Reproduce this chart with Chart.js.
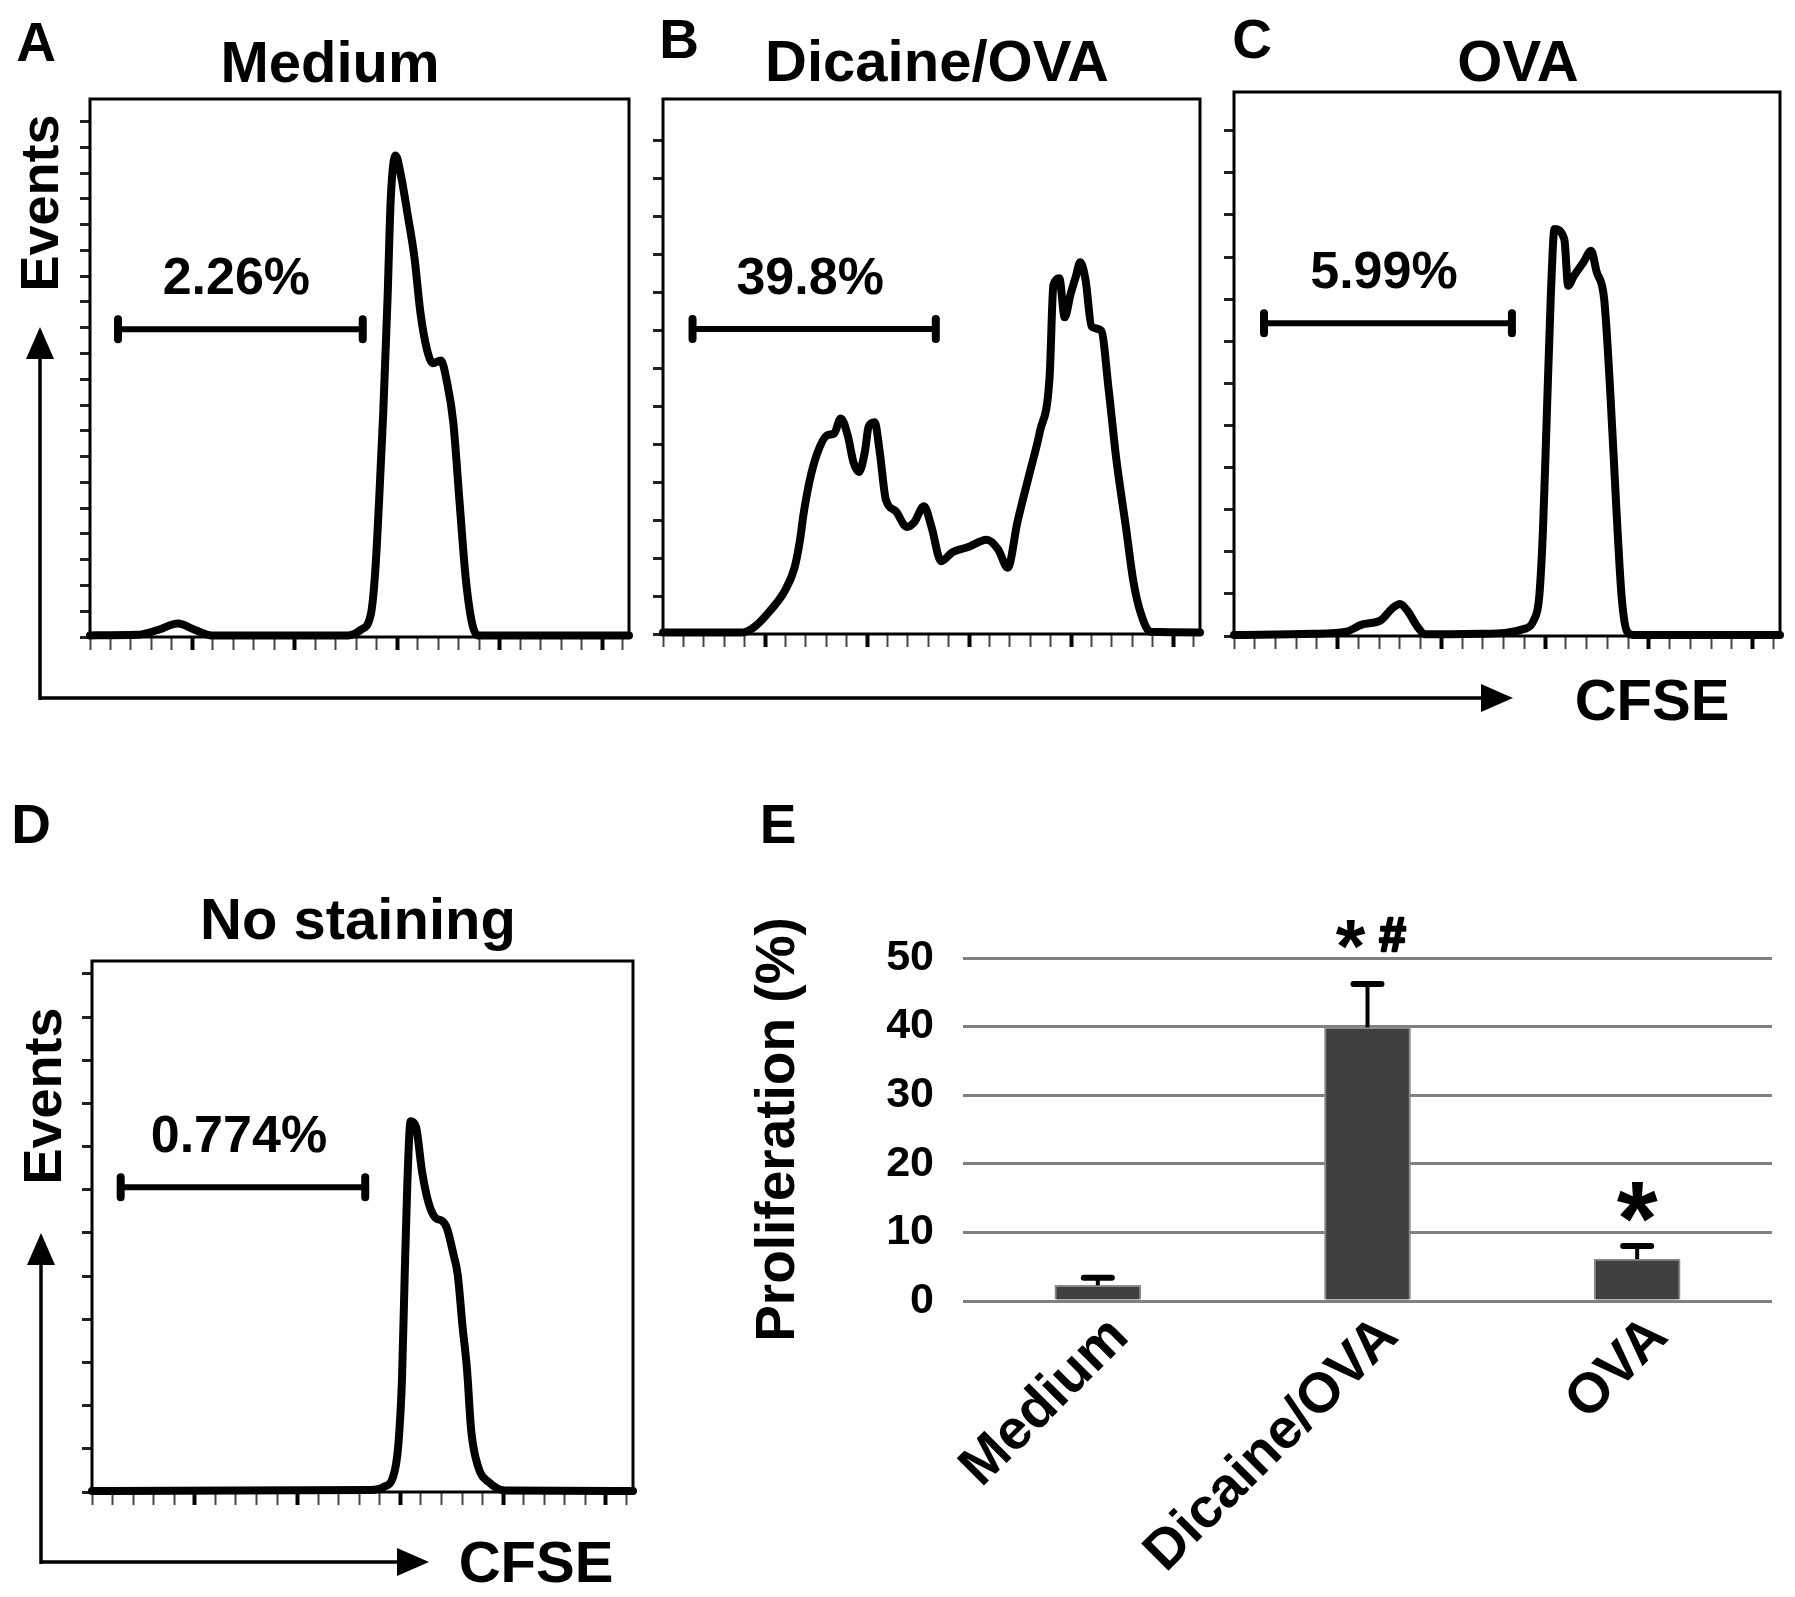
<!DOCTYPE html>
<html>
<head>
<meta charset="utf-8">
<script src="https://cdn.jsdelivr.net/npm/chart.js@4.4.1/dist/chart.umd.min.js"></script>
<style>
  body { margin: 0; background: #fff; }
  #fig { position: relative; width: 1795px; height: 1597px; overflow: hidden; background: #fff;
         font-family: 'Liberation Sans', Arial, sans-serif; font-weight: bold; color: #000; }
  .t { position: absolute; white-space: nowrap; line-height: 1; transform: translate(-50%, -50%); }
  .rot { transform: translate(-50%, -50%) rotate(-90deg); }
  canvas { position: absolute; }
</style>
</head>
<body>
<div id="fig">
  <svg width="1795" height="1597" style="position:absolute;left:0;top:0">
    <g stroke="#000" stroke-width="3.5" fill="none">
      <path d="M40 700 V350 M40 698 H1488"/>
      <path d="M41 1564 V1256 M41 1562 H404"/>
    </g>
    <g fill="#000">
      <polygon points="40,327 26,359 54,359"/>
      <polygon points="1513,698 1481,684 1481,712"/>
      <polygon points="41,1233 27,1265 55,1265"/>
      <polygon points="429,1562 397,1548 397,1576"/>
    </g>
  </svg>

  <div class="t" style="left:36px;top:42px;font-size:55px">A</div>
  <div class="t" style="left:679px;top:39px;font-size:55px">B</div>
  <div class="t" style="left:1252px;top:39px;font-size:55px">C</div>
  <div class="t" style="left:31px;top:824px;font-size:55px">D</div>
  <div class="t" style="left:778px;top:824px;font-size:55px">E</div>

  <div class="t" style="left:330px;top:62px;font-size:58px" id="title0"></div>
  <div class="t" style="left:937px;top:61px;font-size:58px" id="title1"></div>
  <div class="t" style="left:1518px;top:61px;font-size:58px" id="title2"></div>
  <div class="t" style="left:358px;top:919px;font-size:58px" id="title3"></div>

  <div class="t rot" style="left:39px;top:203px;font-size:54px">Events</div>
  <div class="t rot" style="left:42px;top:1096px;font-size:54px">Events</div>
  <div class="t" style="left:1652px;top:700px;font-size:58px">CFSE</div>
  <div class="t" style="left:536px;top:1562px;font-size:58px">CFSE</div>
</div>

<script>
// ---- data: CFSE histograms (x = channel position in % of plot width, y = events in % of plot height)
const panelTitles = ['Medium', 'Dicaine/OVA', 'OVA', 'No staining'];

const medX = [0, 8.8, 12.6, 16.3, 19.5, 22.6, 47.9, 50.2, 52.1, 52.9, 53.6, 54.4, 55.2, 55.8, 56.7, 57.7, 59.0, 60.2, 61.3, 62.5, 63.6, 65.1, 66.2, 67.4, 68.6, 69.7, 70.9, 72.0, 100];
const medY = [0.3, 0.4, 1.3, 2.5, 1.3, 0.3, 0.3, 1.3, 4.2, 11.9, 24.6, 41.6, 62.8, 81.5, 89.5, 85.7, 78.1, 70.5, 60.3, 53.5, 50.9, 51.4, 47.5, 39.9, 24.6, 11.0, 2.5, 0.3, 0.3];

const dicX = [0, 14.9, 17.0, 19.9, 22.7, 24.5, 25.5, 26.2, 27.3, 28.7, 30.5, 31.9, 33.1, 34.4, 35.5, 36.5, 37.6, 38.3, 39.4, 40.4, 41.5, 43.3, 45.4, 46.8, 48.6, 50.0, 51.8, 53.9, 56.7, 60.3, 62.4, 64.2, 66.0, 68.1, 70.2, 72.0, 72.7, 73.8, 74.8, 75.9, 76.9, 77.7, 78.7, 79.8, 81.6, 83.0, 84.4, 86.2, 87.6, 89.0, 90.8, 100];
const dicY = [0.3, 0.3, 1.3, 4.3, 8.1, 12.4, 17.5, 22.6, 28.6, 33.7, 37.1, 37.5, 40.3, 37.1, 32.0, 30.3, 34.1, 38.8, 39.6, 33.7, 25.1, 23.0, 20.0, 20.9, 23.9, 20.0, 13.6, 15.3, 16.2, 17.6, 15.8, 12.4, 20.9, 29.4, 37.9, 48.2, 65.2, 66.5, 59.2, 63.5, 66.9, 69.5, 66.1, 57.5, 56.7, 45.6, 32.8, 20.0, 9.8, 3.8, 0.4, 0.3];

const ovaX = [0, 14.3, 20.6, 23.4, 26.9, 29.0, 30.4, 31.8, 33.6, 35.0, 45.1, 53.5, 54.9, 55.9, 56.6, 57.3, 58.0, 58.7, 60.5, 61.2, 62.2, 64.0, 65.4, 66.4, 67.8, 68.9, 70.0, 71.0, 72.0, 73.1, 100];
const ovaY = [0.2, 0.4, 0.8, 2.1, 2.9, 5.1, 5.9, 4.6, 1.7, 0.3, 0.4, 1.4, 2.9, 7.2, 19.8, 40.9, 61.9, 74.8, 72.9, 64.4, 66.1, 68.7, 70.8, 67.0, 61.9, 45.1, 24.0, 7.2, 0.8, 0.2, 0.2];

const noX = [0, 51.5, 54.0, 55.6, 56.6, 57.3, 57.8, 58.3, 58.9, 59.9, 61.0, 62.2, 63.5, 64.7, 65.6, 66.8, 67.6, 68.5, 69.3, 70.1, 71.4, 73.4, 76.3, 100];
const noY = [0.2, 0.4, 1.0, 2.7, 8.6, 21.3, 40.9, 58.5, 69.8, 68.7, 60.4, 54.5, 51.6, 51.1, 49.7, 44.8, 40.9, 31.1, 23.3, 11.5, 4.7, 1.8, 0.3, 0.2];

// proliferation gates
const gateText = ['2.26%', '39.8%', '5.99%', '0.774%'];
const gateFrom = [5.2, 5.5, 5.5, 5.3];
const gateTo = [50.6, 50.8, 50.9, 50.5];
const gateLevel = [57.2, 57.0, 57.5, 57.4];

// ---- data: panel E bar chart
const barLabels = ['Medium', 'Dicaine/OVA', 'OVA'];
const barMeans = [2.3, 39.9, 6.1];
const barErrors = [1.1, 6.3, 1.9];
const barMarks = ['', '*#', '*'];
const yTicksE = [0, 10, 20, 30, 40, 50];

const FONT = "'Liberation Sans', Arial, sans-serif";
Chart.defaults.font.family = FONT;
Chart.defaults.color = '#000';

const fig = document.getElementById('fig');
panelTitles.forEach((t, i) => { document.getElementById('title' + i).textContent = t; });

function addCanvas(id, left, top, w, h) {
    const c = document.createElement('canvas');
    c.id = id;
    c.width = w; c.height = h;
    c.style.left = left + 'px'; c.style.top = top + 'px';
    c.style.width = w + 'px'; c.style.height = h + 'px';
    fig.appendChild(c);
    return c;
}

// box around the plot area
const framePlugin = {
    id: 'frame',
    beforeDatasetsDraw(chart) {
        const { ctx, chartArea: a } = chart;
        ctx.save();
        ctx.strokeStyle = '#000';
        ctx.lineWidth = 3;
        ctx.strokeRect(a.left, a.top, a.right - a.left, a.bottom - a.top);
        ctx.restore();
    }
};

// gate marker with its percentage
const gatePlugin = {
    id: 'gate',
    afterDatasetsDraw(chart, args, o) {
        const { ctx, scales: { x, y } } = chart;
        const x1 = x.getPixelForValue(o.from), x2 = x.getPixelForValue(o.to);
        const yy = y.getPixelForValue(o.level);
        ctx.save();
        ctx.strokeStyle = '#000';
        ctx.lineWidth = 6;
        ctx.beginPath(); ctx.moveTo(x1, yy); ctx.lineTo(x2, yy); ctx.stroke();
        ctx.lineWidth = 8; ctx.lineCap = 'round';
        ctx.beginPath();
        ctx.moveTo(x1, yy - 10); ctx.lineTo(x1, yy + 10);
        ctx.moveTo(x2, yy - 10); ctx.lineTo(x2, yy + 10);
        ctx.stroke();
        ctx.fillStyle = '#000';
        ctx.font = 'bold 52px ' + FONT;
        ctx.textAlign = 'center';
        ctx.textBaseline = 'alphabetic';
        ctx.fillText(o.text, (x1 + x2) / 2 - 4, yy - 35);
        ctx.restore();
    }
};

const AX = 26, PAD = 8;
const xTickVals = [];
for (let i = 0; i <= 26; i++) xTickVals.push(+(i * 3.8).toFixed(1));

function histChart(p) {
    const w = p.R - p.L, h = p.B - p.T;
    const canvas = addCanvas(p.id, p.L - AX, p.T - PAD, AX + w + PAD, PAD + h + AX);
    const yTickVals = [];
    for (let v = 0; v <= 98; v += p.ystep) yTickVals.push(v);
    const pts = p.xs.map((x, i) => ({ x: x, y: p.ys[i] }));
    return new Chart(canvas, {
        type: 'line',
        data: { datasets: [{
            data: pts, borderColor: '#000', borderWidth: 8, pointRadius: 0,
            cubicInterpolationMode: 'monotone', borderJoinStyle: 'round', borderCapStyle: 'round', clip: 12
        }] },
        options: {
            responsive: false, animation: false, events: [],
            layout: { padding: { top: PAD, right: PAD, left: 0, bottom: 0 } },
            plugins: {
                legend: { display: false }, tooltip: { enabled: false },
                gate: { from: gateFrom[p.g], to: gateTo[p.g], level: gateLevel[p.g], text: gateText[p.g] }
            },
            scales: {
                x: {
                    type: 'linear', min: 0, max: 100,
                    afterFit: s => { s.height = AX; },
                    afterBuildTicks: s => { s.ticks = xTickVals.map((v, i) => ({ value: v, major: i > 0 && i % 5 === 0 })); },
                    ticks: { display: false },
                    border: { display: false },
                    grid: { drawOnChartArea: false, drawTicks: true, tickLength: 13,
                            tickColor: c => (c.tick && c.tick.major ? '#000' : '#444'),
                            tickWidth: c => (c.tick && c.tick.major ? 4 : 2) }
                },
                y: {
                    type: 'linear', min: 0, max: 100,
                    afterFit: s => { s.width = AX; },
                    afterBuildTicks: s => { s.ticks = yTickVals.map(v => ({ value: v })); },
                    ticks: { display: false },
                    border: { display: false },
                    grid: { drawOnChartArea: false, drawTicks: true, tickLength: 10, tickColor: '#222', tickWidth: 3 }
                }
            }
        },
        plugins: [framePlugin, gatePlugin]
    });
}

[
    { id: 'chartA', xs: medX, ys: medY, g: 0, ystep: 4.79, L: 90, T: 99, R: 629, B: 637 },
    { id: 'chartB', xs: dicX, ys: dicY, g: 1, ystep: 7.1, L: 663, T: 99, R: 1200, B: 634 },
    { id: 'chartC', xs: ovaX, ys: ovaY, g: 2, ystep: 7.74, L: 1234, T: 92, R: 1780, B: 636 },
    { id: 'chartD', xs: noX, ys: noY, g: 3, ystep: 8.13, L: 92, T: 961, R: 633, B: 1492 }
].forEach(histChart);

// ---- panel E: error bars and significance marks
function drawGlyph(ctx, ch, cx, cy, targetH, extra) {
    ctx.font = 'bold 100px ' + FONT;
    const m = ctx.measureText(ch);
    const hh = m.actualBoundingBoxAscent + m.actualBoundingBoxDescent;
    const size = 100 * targetH / hh;
    ctx.font = 'bold ' + size + 'px ' + FONT;
    const m2 = ctx.measureText(ch);
    const midOff = (m2.actualBoundingBoxAscent - m2.actualBoundingBoxDescent) / 2;
    ctx.textAlign = 'center';
    ctx.textBaseline = 'alphabetic';
    ctx.fillText(ch, cx, cy + midOff);
    if (extra) {
        ctx.lineWidth = extra;
        ctx.lineJoin = 'round';
        ctx.strokeText(ch, cx, cy + midOff);
    }
}

const errPlugin = {
    id: 'errbars',
    afterDatasetsDraw(chart) {
        const { ctx, scales: { y } } = chart;
        const meta = chart.getDatasetMeta(0);
        ctx.save();
        ctx.strokeStyle = '#000';
        ctx.fillStyle = '#000';
        meta.data.forEach((bar, i) => {
            const top = y.getPixelForValue(barMeans[i] + barErrors[i]);
            ctx.lineWidth = 4;
            ctx.beginPath(); ctx.moveTo(bar.x, bar.y); ctx.lineTo(bar.x, top); ctx.stroke();
            ctx.lineWidth = 6; ctx.lineCap = 'round';
            ctx.beginPath(); ctx.moveTo(bar.x - 14, top); ctx.lineTo(bar.x + 14, top); ctx.stroke();
            ctx.lineCap = 'butt';
            const mark = barMarks[i];
            if (mark === '*') {
                drawGlyph(ctx, '*', bar.x, top - 44, 40, 0);
            } else if (mark) {
                drawGlyph(ctx, '*', bar.x - 17, top - 50, 29, 0);
                drawGlyph(ctx, '#', bar.x + 25, top - 50, 33, 2.5);
            }
        });
        ctx.restore();
    }
};

const cE = addCanvas('chartE', 740, 880, 1055, 717);
new Chart(cE, {
    type: 'bar',
    data: {
        labels: barLabels,
        datasets: [{
            data: barMeans, backgroundColor: '#404040', borderColor: '#8a8a8a', borderWidth: 2,
            barThickness: 86
        }]
    },
    options: {
        responsive: false, animation: false, events: [],
        layout: { padding: { top: 78, right: 23, left: 0, bottom: 0 } },
        plugins: { legend: { display: false }, tooltip: { enabled: false } },
        scales: {
            x: {
                afterFit: s => { s.height = 296; },
                grid: { display: false, drawTicks: false },
                border: { display: false },
                ticks: { font: { size: 56, weight: 'bold' }, color: '#000', minRotation: 45, maxRotation: 45,
                         autoSkip: false, labelOffset: 22, padding: 3 }
            },
            y: {
                min: 0, max: 50,
                afterFit: s => { s.width = 223; },
                afterBuildTicks: s => { s.ticks = yTicksE.map(v => ({ value: v })); },
                grid: { color: '#808080', lineWidth: 3, drawTicks: false },
                border: { display: false },
                ticks: { font: { size: 43, weight: 'bold' }, color: '#000', padding: 29 },
                title: { display: true, text: 'Proliferation (%)', color: '#000',
                         font: { size: 55, weight: 'bold' }, padding: { top: 6, bottom: 0 } }
            }
        }
    },
    plugins: [errPlugin]
});
</script>
</body>
</html>
